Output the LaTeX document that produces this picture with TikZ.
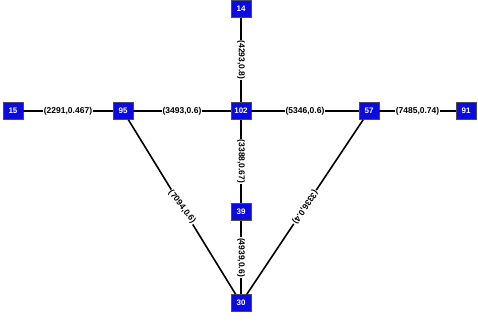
\documentclass[tikz,border=0pt]{standalone}
\usepackage{fontspec}
\setmainfont{Liberation Sans}
\definecolor{vtxblue}{RGB}{10,10,225}
\begin{document}
\begin{tikzpicture}[x=1pt,y=-1pt,
  vtx/.style={draw=black!70, line width=0.6pt, fill=vtxblue, text=white,
    font=\fontsize{8}{9}\selectfont\bfseries, minimum width=20pt, minimum height=17pt, inner sep=2.5pt},
  link/.style={draw=black, line width=1.6pt},
  wt/.style={fill=white, inner sep=0.8pt, font=\fontsize{8.5}{9}\selectfont\bfseries, midway}]
  \useasboundingbox (0,0) rectangle (478,322);
  % vertices
  \node[vtx] (n15)  at (13,111)  {15};
  \node[vtx] (n95)  at (123,111) {95};
  \node[vtx] (n102) at (241,111) {102};
  \node[vtx] (n57)  at (369,111) {57};
  \node[vtx] (n91)  at (466,111) {91};
  \node[vtx] (n14)  at (241,9)   {14};
  \node[vtx] (n39)  at (241,212) {39};
  \node[vtx] (n30)  at (241,303) {30};
  % weighted links, labels turned along the direction of each link
  \draw[link] (n15) -- node[wt] {(2291,0.467)} (n95);
  \draw[link] (n95) -- node[wt] {(3493,0.6)} (n102);
  \draw[link] (n102) -- node[wt] {(5346,0.6)} (n57);
  \draw[link] (n57) -- node[wt] {(7485,0.74)} (n91);
  \draw[link] (n14) -- node[wt, rotate=-90] {(4293,0.8)} (n102);
  \draw[link] (n102) -- node[wt, rotate=-90] {(3388,0.67)} (n39);
  \draw[link] (n39) -- node[wt, rotate=-90] {(4939,0.6)} (n30);
  \draw[link] (n95) -- node[wt, rotate=-52.6] {(7094,0.6)} (n30);
  \draw[link] (n57) -- node[wt, rotate=-123.7] {(3336,0.4)} (n30);
\end{tikzpicture}
\end{document}
